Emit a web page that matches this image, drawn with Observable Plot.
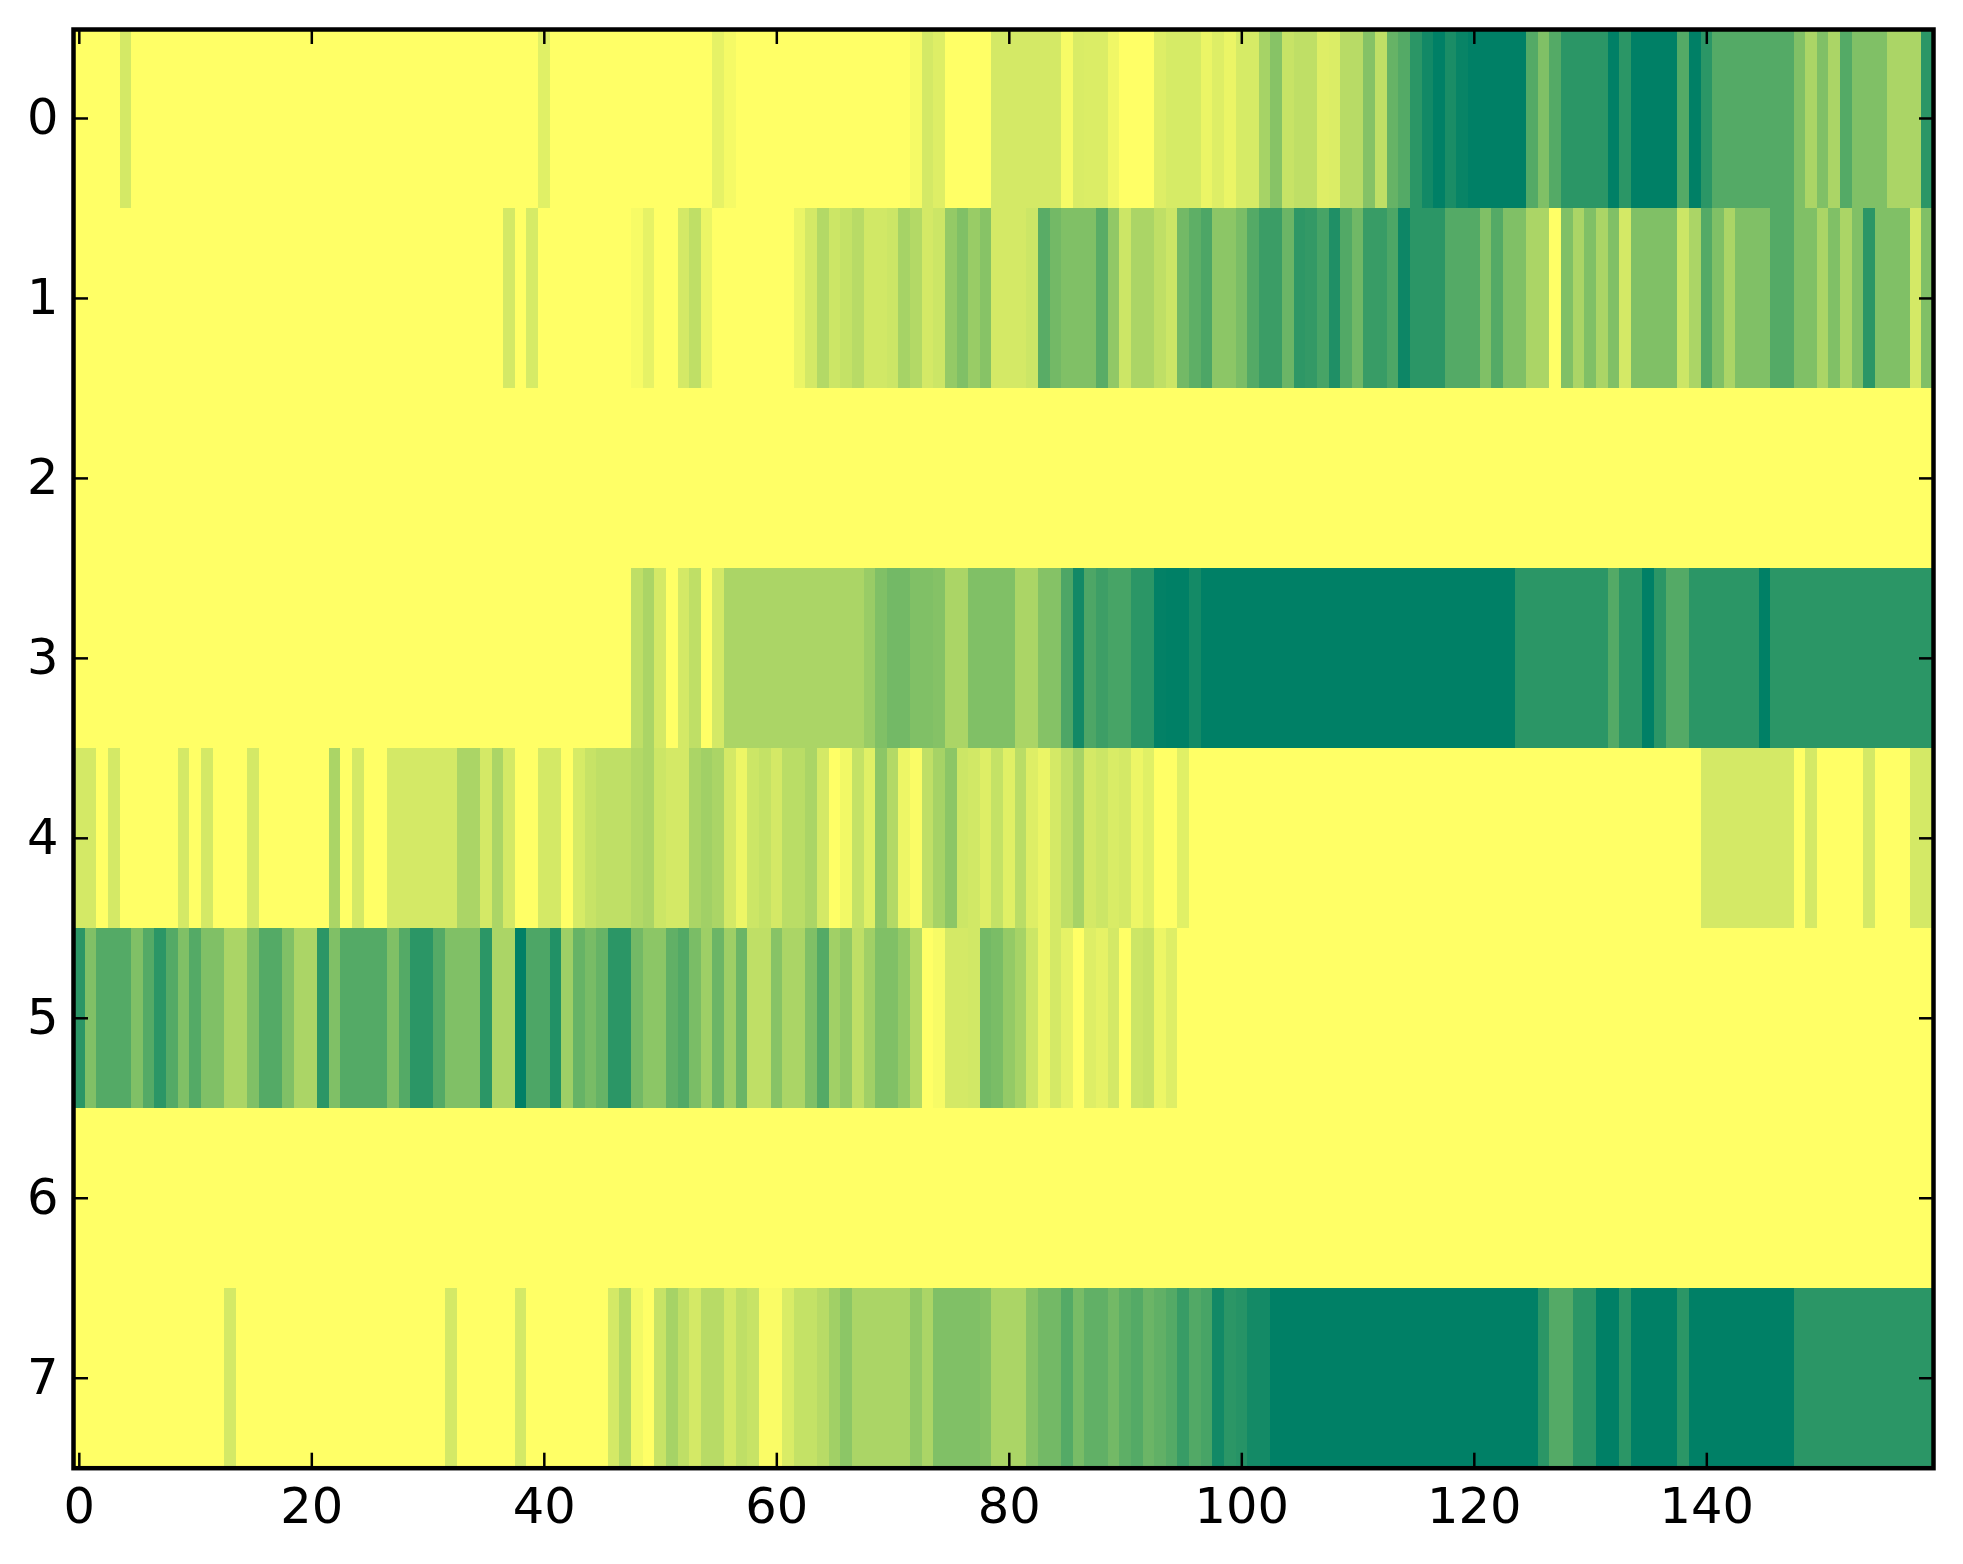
<!DOCTYPE html>
<html>
<head>
<meta charset="utf-8">
<style>
html,body{margin:0;padding:0;background:#fff;overflow:hidden}
svg{display:block;max-width:none}
</style>
<script src="https://cdn.jsdelivr.net/npm/d3@7"></script>
<script src="https://cdn.jsdelivr.net/npm/@observablehq/plot@0.6"></script>
</head>
<body>
<div id="chart"></div>
<script>
const xTicks = [0,20,40,60,80,100,120,140];
const yTicks = [0,1,2,3,4,5,6,7];
const row0 = [
0,0,0,0,17,0,0,0,0,0, 0,0,0,0,0,0,0,0,0,0, 0,0,0,0,0,0,0,0,0,0, 0,0,0,0,0,0,0,0,0,0,
12,0,0,0,0,0,0,0,0,0, 0,0,0,0,0,10,4,0,0,0, 0,0,0,0,0,0,0,0,0,0, 0,0,4,17,13,0,0,0,0,17,
17,17,17,17,17,3,15,14,14,6, 0,0,0,13,16,16,16,8,13,8, 16,16,35,47,22,25,25,13,14,28, 28,48,25,60,67,83,93,100,90,97,
100,100,100,100,100,67,50,67,83,83, 83,83,100,83,100,100,100,100,67,100, 83,67,67,67,67,67,67,67,50,33, 50,33,67,50,50,50,33,33,33,83];
const row1 = [
0,0,0,0,0,0,0,0,0,0, 0,0,0,0,0,0,0,0,0,0, 0,0,0,0,0,0,0,0,0,0, 0,0,0,0,0,0,0,17,0,16,
0,0,0,0,0,0,0,0,3,10, 0,0,17,25,8,0,0,0,0,0, 0,0,8,17,30,20,23,28,18,18, 20,35,30,17,20,42,50,40,47,17,
17,17,20,65,55,50,50,50,65,43, 20,33,33,25,20,55,63,70,45,45, 52,67,77,77,58,82,80,72,88,68, 56,78,78,70,95,83,83,83,67,67,
67,50,67,50,50,33,33,0,50,33, 50,33,50,17,50,50,50,50,20,33, 67,50,33,50,50,50,67,67,50,50, 33,50,33,50,83,50,50,50,17,50];
const row2 = [
0,0,0,0,0,0,0,0,0,0, 0,0,0,0,0,0,0,0,0,0, 0,0,0,0,0,0,0,0,0,0, 0,0,0,0,0,0,0,0,0,0,
0,0,0,0,0,0,0,0,0,0, 0,0,0,0,0,0,0,0,0,0, 0,0,0,0,0,0,0,0,0,0, 0,0,0,0,0,0,0,0,0,0,
0,0,0,0,0,0,0,0,0,0, 0,0,0,0,0,0,0,0,0,0, 0,0,0,0,0,0,0,0,0,0, 0,0,0,0,0,0,0,0,0,0,
0,0,0,0,0,0,0,0,0,0, 0,0,0,0,0,0,0,0,0,0, 0,0,0,0,0,0,0,0,0,0, 0,0,0,0,0,0,0,0,0,0];
const row3 = [
0,0,0,0,0,0,0,0,0,0, 0,0,0,0,0,0,0,0,0,0, 0,0,0,0,0,0,0,0,0,0, 0,0,0,0,0,0,0,0,0,0,
0,0,0,0,0,0,0,0,25,33, 17,0,17,25,0,17,33,33,33,33, 33,33,33,33,33,33,33,33,40,50, 55,55,50,50,48,33,33,50,50,50,
50,33,33,48,48,70,93,70,76,72, 72,83,83,99,100,100,92,100,100,100, 100,100,100,100,100,100,100,100,100,100, 100,100,100,100,100,100,100,100,100,100,
100,100,100,100,83,83,83,83,83,83, 83,83,67,83,83,100,83,67,67,83, 83,83,83,83,83,100,83,83,83,83, 83,83,83,83,83,83,83,83,83,83];
const row4 = [
17,17,0,17,0,0,0,0,0,17, 0,17,0,0,0,17,0,0,0,0, 0,0,33,0,17,0,0,17,17,17, 17,17,17,33,33,17,33,17,0,0,
17,17,0,16,22,25,25,25,30,33, 20,17,17,33,37,33,17,7,20,23, 17,27,27,33,17,0,5,23,12,45, 30,7,2,25,35,45,20,18,13,23,
12,27,13,8,17,25,35,17,20,15, 17,7,12,0,0,12,0,0,0,0, 0,0,0,0,0,0,0,0,0,0, 0,0,0,0,0,0,0,0,0,0,
0,0,0,0,0,0,0,0,0,0, 0,0,0,0,0,0,0,0,0,0, 17,17,17,17,17,17,17,17,0,17, 0,0,0,0,17,0,0,0,17,17];
const row5 = [
83,50,67,67,67,50,67,83,67,50, 67,50,50,33,33,50,67,67,50,33, 33,83,50,67,67,67,67,50,67,83, 83,67,50,50,50,83,33,33,100,70,
70,87,38,60,53,60,83,83,55,45, 45,62,68,52,38,58,38,58,25,25, 47,33,33,50,67,37,43,25,37,50, 50,42,30,0,3,17,17,18,55,52,
42,35,20,8,17,10,0,13,10,17, 0,20,22,7,13,0,0,0,0,0, 0,0,0,0,0,0,0,0,0,0, 0,0,0,0,0,0,0,0,0,0,
0,0,0,0,0,0,0,0,0,0, 0,0,0,0,0,0,0,0,0,0, 0,0,0,0,0,0,0,0,0,0, 0,0,0,0,0,0,0,0,0,0];
const row6 = [
0,0,0,0,0,0,0,0,0,0, 0,0,0,0,0,0,0,0,0,0, 0,0,0,0,0,0,0,0,0,0, 0,0,0,0,0,0,0,0,0,0,
0,0,0,0,0,0,0,0,0,0, 0,0,0,0,0,0,0,0,0,0, 0,0,0,0,0,0,0,0,0,0, 0,0,0,0,0,0,0,0,0,0,
0,0,0,0,0,0,0,0,0,0, 0,0,0,0,0,0,0,0,0,0, 0,0,0,0,0,0,0,0,0,0, 0,0,0,0,0,0,0,0,0,0,
0,0,0,0,0,0,0,0,0,0, 0,0,0,0,0,0,0,0,0,0, 0,0,0,0,0,0,0,0,0,0, 0,0,0,0,0,0,0,0,0,0];
const row7 = [
0,0,0,0,0,0,0,0,0,0, 0,0,0,17,0,0,0,0,0,0, 0,0,0,0,0,0,0,0,0,0, 0,0,17,0,0,0,0,0,17,0,
0,0,0,0,0,0,17,30,5,0, 22,35,25,17,28,28,17,25,22,2, 2,15,23,23,28,37,45,33,33,33, 33,33,43,33,50,50,50,50,48,33,
33,33,47,55,55,67,53,62,62,55, 63,67,58,62,67,78,68,72,93,83, 85,92,92,100,100,100,100,100,100,100, 100,100,100,100,100,100,100,100,100,100,
100,100,100,100,100,100,83,67,67,83, 83,100,100,83,100,100,100,100,83,100, 100,100,100,100,100,100,100,100,83,83, 83,83,83,83,83,83,83,83,83,83];

const rows = [row0,row1,row2,row3,row4,row5,row6,row7];
const cells = rows.flatMap((r,y)=>r.map((v,x)=>({x,y,v})));

const FONT = 49.5;
const chart = Plot.plot({
  width:1963, height:1564,
  marginLeft:73, marginRight:30, marginTop:28, marginBottom:96.3,
  style:{fontFamily:"'DejaVu Sans',sans-serif",background:"#fff",color:"#000"},
  x:{type:"linear",domain:[-0.5,159.5],label:null},
  y:{type:"linear",domain:[7.5,-0.5],label:null},
  color:{type:"linear",domain:[0,100],range:["#ffff66","#008066"],interpolate:"rgb"},
  marks:[
    Plot.rect(cells,{x1:d=>d.x-0.5,x2:d=>d.x+0.5,y1:d=>d.y-0.5,y2:d=>d.y+0.5,fill:"v",shapeRendering:"crispEdges"}),
    Plot.axisX({ticks:xTicks,anchor:"bottom",tickSize:15,dy:-15,text:null,label:null,strokeWidth:2.5,stroke:"#000"}),
    Plot.axisX({ticks:xTicks,anchor:"top",tickSize:15,dy:15,text:null,label:null,strokeWidth:2.5,stroke:"#000"}),
    Plot.axisY({ticks:yTicks,anchor:"left",tickSize:15,dx:15,text:null,label:null,strokeWidth:2.5,stroke:"#000"}),
    Plot.axisY({ticks:yTicks,anchor:"right",tickSize:15,dx:-15,text:null,label:null,strokeWidth:2.5,stroke:"#000"}),
    Plot.axisX({ticks:xTicks,anchor:"bottom",tickSize:0,tickPadding:20,fontSize:FONT,label:null,tickFormat:d=>String(d),fill:"#000"}),
    Plot.axisY({ticks:yTicks,anchor:"left",tickSize:0,tickPadding:15,fontSize:FONT,label:null,tickFormat:d=>String(d),fill:"#000"}),
    Plot.frame({stroke:"#000",strokeWidth:4.5,insetTop:1})
  ]
});
document.getElementById("chart").appendChild(chart);
</script>
</body>
</html>
